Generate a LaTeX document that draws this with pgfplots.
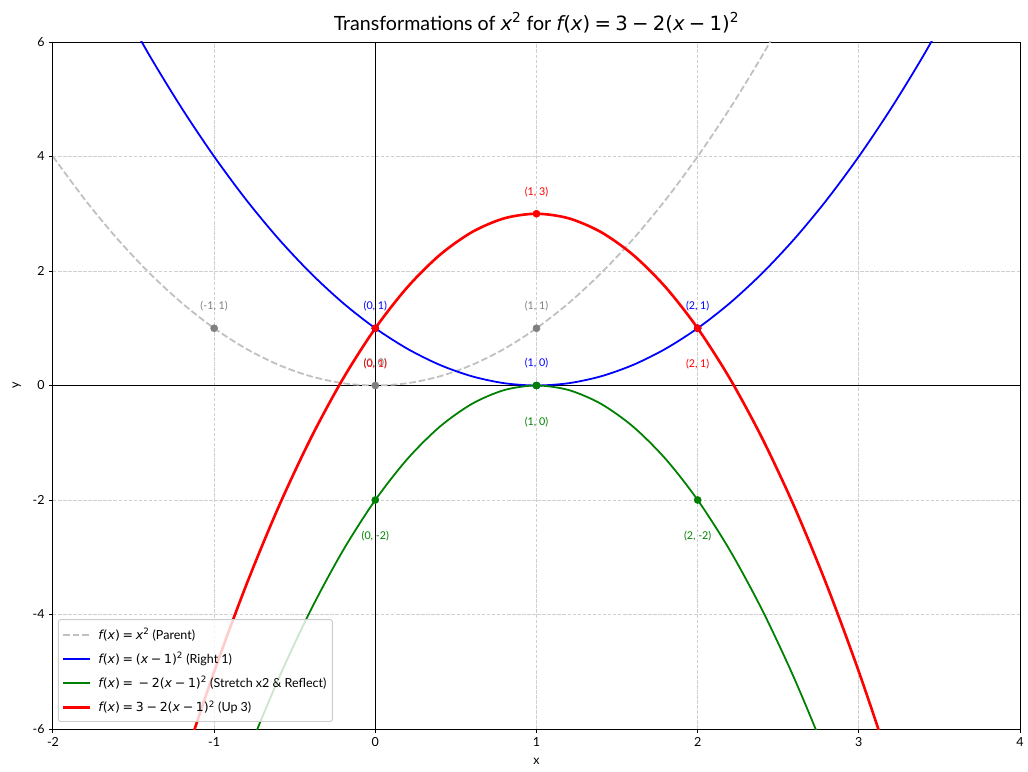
\documentclass[border=0pt]{standalone}
\usepackage{pgfplots}
\pgfplotsset{compat=1.18}
\usepackage{fontspec}
\setmainfont{Lato}
\newfontfamily\dvs{DejaVu Sans}
% symbols of the formulas, set like plain-text maths
\newcommand{\mi}[1]{{\dvs\itshape #1}}
\newcommand{\mn}[1]{{\dvs #1}}
\newcommand{\bop}[1]{{\dvs\hspace{0.22em}#1\hspace{0.22em}}}
\newcommand{\sq}{\textsuperscript{\dvs 2}}
\newcommand{\fx}{\mi{f}\mn{(}\mi{x}\mn{)}}

\definecolor{parentgray}{RGB}{192,192,192}
\definecolor{ptgray}{RGB}{128,128,128}
\definecolor{dkgreen}{RGB}{0,128,0}
\definecolor{gridgray}{RGB}{208,208,208}
\definecolor{legedge}{RGB}{204,204,204}

% legend keys: solid and dashed sample strokes
\newcommand{\legline}[2]{\textcolor{#1}{\rule[\dimexpr 3.6pt-#2/2\relax]{22.7pt}{#2}}}
\newcommand{\legdash}{\textcolor{parentgray}{%
  \rule[2.85pt]{5.55pt}{1.5pt}\hspace{2.4pt}\rule[2.85pt]{5.55pt}{1.5pt}\hspace{2.4pt}%
  \rule[2.85pt]{5.55pt}{1.5pt}\hspace{1.25pt}}}

\tikzset{
  ptlabel/.style={font=\fontsize{9}{10}\selectfont, anchor=center},
}

\begin{document}
\begin{tikzpicture}
\path[use as bounding box] (-44.5pt,-35.3pt) rectangle (819.5pt,612.7pt);
\begin{axis}[
  at={(0,0)}, anchor=south west,
  scale only axis, width=812.8pt, height=577.4pt,
  xmin=-2, xmax=4, ymin=-6, ymax=6,
  xtick={-2,-1,0,1,2,3,4}, ytick={-6,-4,-2,0,2,4,6},
  tick pos=left, tick align=outside, major tick length=3.5pt,
  tick style={black, line width=0.8pt},
  axis line style={black, line width=0.8pt},
  grid=major,
  major grid style={gridgray, line width=0.8pt, dash pattern=on 2.96pt off 1.28pt},
  tick label style={font=\fontsize{10.5}{12}\selectfont},
  /pgf/number format/assume math mode=true,
  xlabel={x}, ylabel={y},
  xlabel shift=3pt, ylabel shift=3pt,
  label style={font=\fontsize{10.5}{12}\selectfont},
  title={Transformations of \mi{x}\sq{} for \fx\bop{=}\mn{3}\bop{−}\mn{2(}\mi{x}\bop{−}\mn{1)}\sq},
  title style={font=\fontsize{16.5}{18}\selectfont, yshift=-2pt},
]
% reference lines through the origin
\addplot[black, line width=0.9pt] coordinates {(-2,0) (4,0)};
\addplot[black, line width=0.9pt] coordinates {(0,-6) (0,6)};

% parent x^2
\addplot[parentgray, line width=1.5pt, dash pattern=on 5.55pt off 2.4pt, smooth] coordinates {
 (-2,4) (-1.8,3.24) (-1.6,2.56) (-1.4,1.96) (-1.2,1.44) (-1,1) (-0.8,0.64) (-0.6,0.36)
 (-0.4,0.16) (-0.2,0.04) (0,0) (0.2,0.04) (0.4,0.16) (0.6,0.36) (0.8,0.64) (1,1)
 (1.2,1.44) (1.4,1.96) (1.6,2.56) (1.8,3.24) (2,4) (2.2,4.84) (2.4,5.76) (2.6,6.76)};
\addplot[only marks, mark=*, mark size=3pt, ptgray,
  point meta=explicit symbolic, nodes near coords,
  every node near coord/.append style={ptlabel, text=ptgray, yshift=18.5pt}]
  coordinates {(-1,1) [{(-1, 1)}] (0,0) [{(0, 0)}] (1,1) [{(1, 1)}]};

% shift right by 1
\addplot[blue, line width=1.5pt, smooth] coordinates {
 (-1.6,6.76) (-1.4,5.76) (-1.2,4.84) (-1,4) (-0.8,3.24) (-0.6,2.56) (-0.4,1.96) (-0.2,1.44)
 (0,1) (0.2,0.64) (0.4,0.36) (0.6,0.16) (0.8,0.04) (1,0) (1.2,0.04) (1.4,0.16) (1.6,0.36)
 (1.8,0.64) (2,1) (2.2,1.44) (2.4,1.96) (2.6,2.56) (2.8,3.24) (3,4) (3.2,4.84) (3.4,5.76) (3.6,6.76)};
\addplot[only marks, mark=*, mark size=3pt, blue,
  point meta=explicit symbolic, nodes near coords,
  every node near coord/.append style={ptlabel, text=blue, yshift=18.5pt}]
  coordinates {(0,1) [{(0, 1)}] (1,0) [{(1, 0)}] (2,1) [{(2, 1)}]};

% vertical stretch by 2 and reflection
\addplot[dkgreen, line width=1.5pt, smooth] coordinates {
 (-1,-8) (-0.8,-6.48) (-0.6,-5.12) (-0.4,-3.92) (-0.2,-2.88) (0,-2) (0.2,-1.28) (0.4,-0.72)
 (0.6,-0.32) (0.8,-0.08) (1,0) (1.2,-0.08) (1.4,-0.32) (1.6,-0.72) (1.8,-1.28) (2,-2)
 (2.2,-2.88) (2.4,-3.92) (2.6,-5.12) (2.8,-6.48) (3,-8)};
\addplot[only marks, mark=*, mark size=3pt, dkgreen,
  point meta=explicit symbolic, nodes near coords,
  every node near coord/.append style={ptlabel, text=dkgreen, yshift=-30.5pt}]
  coordinates {(0,-2) [{(0, -2)}] (1,0) [{(1, 0)}] (2,-2) [{(2, -2)}]};

% shift up by 3
\addplot[red, line width=2.2pt, smooth] coordinates {
 (-1.4,-8.52) (-1.2,-6.68) (-1,-5) (-0.8,-3.48) (-0.6,-2.12) (-0.4,-0.92) (-0.2,0.12) (0,1)
 (0.2,1.72) (0.4,2.28) (0.6,2.68) (0.8,2.92) (1,3) (1.2,2.92) (1.4,2.68) (1.6,2.28) (1.8,1.72)
 (2,1) (2.2,0.12) (2.4,-0.92) (2.6,-2.12) (2.8,-3.48) (3,-5) (3.2,-6.68) (3.4,-8.52)};
\addplot[only marks, mark=*, mark size=3pt, red,
  point meta=explicit symbolic, nodes near coords,
  every node near coord/.append style={ptlabel, text=red, yshift=-30.5pt}]
  coordinates {(0,1) [{(0, 1)}] (2,1) [{(2, 1)}]};
\addplot[only marks, mark=*, mark size=3pt, red,
  point meta=explicit symbolic, nodes near coords,
  every node near coord/.append style={ptlabel, text=red, yshift=18.5pt}]
  coordinates {(1,3) [{(1, 3)}]};

% legend box, lower left corner
\node[anchor=south west, xshift=4.2pt, yshift=5.9pt, inner xsep=0pt, inner ysep=2pt,
      fill=white, fill opacity=0.8, text opacity=1, draw=legedge, line width=0.8pt,
      rounded corners=2pt, font=\fontsize{10.5}{12}\selectfont]
  at (rel axis cs:0,0) {%
  \renewcommand{\arraystretch}{1.7}%
  \begin{tabular}{@{\hspace{4.2pt}}l@{\hspace{5pt}}}
  \legdash\hspace{6.7pt}\fx\bop{=}\mi{x}\sq{} (Parent)\\
  \legline{blue}{1.5pt}\hspace{6.7pt}\fx\bop{=}\mn{(}\mi{x}\bop{−}\mn{1)}\sq{} (Right 1)\\
  \legline{dkgreen}{1.5pt}\hspace{6.7pt}\fx\bop{=}\bop{−}\mn{2(}\mi{x}\bop{−}\mn{1)}\sq{} (Stretch x2 \& Reflect)\\
  \legline{red}{2.2pt}\hspace{6.7pt}\fx\bop{=}\mn{3}\bop{−}\mn{2(}\mi{x}\bop{−}\mn{1)}\sq{} (Up 3)
  \end{tabular}};
\end{axis}
\end{tikzpicture}
\end{document}
